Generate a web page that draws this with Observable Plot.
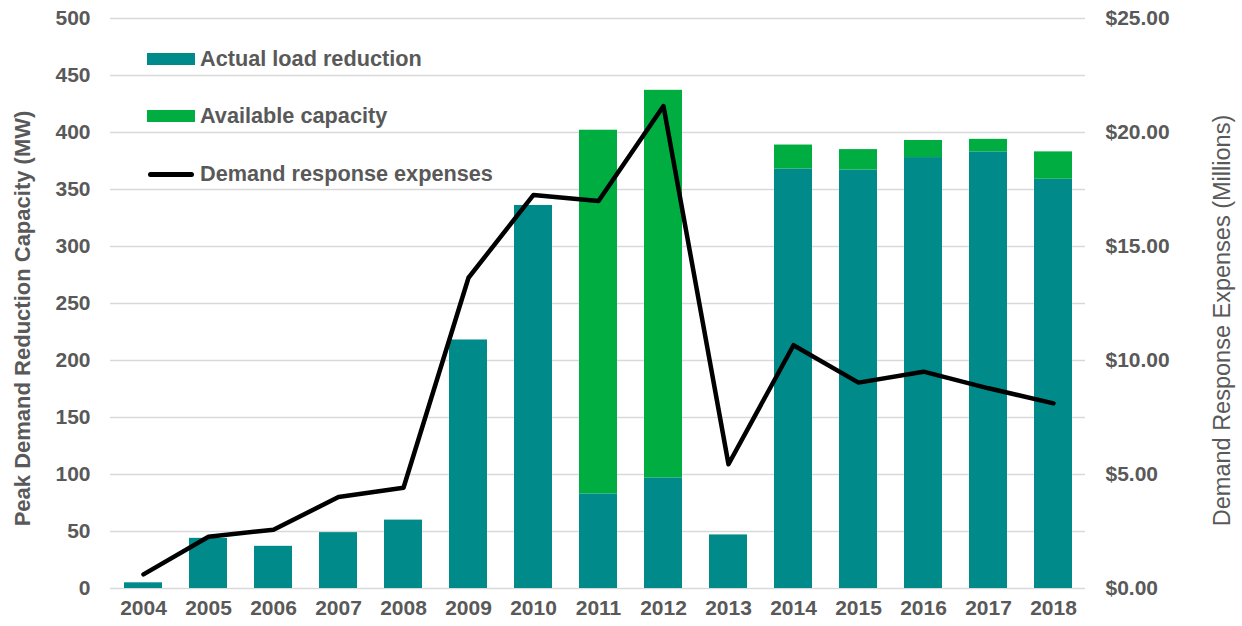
<!DOCTYPE html>
<html>
<head>
<meta charset="utf-8">
<script src="https://cdn.jsdelivr.net/npm/d3@7"></script>
<script src="https://cdn.jsdelivr.net/npm/@observablehq/plot@0.6"></script>
<style>
  html, body { margin: 0; padding: 0; background: #fff; }
  #wrap { position: relative; width: 1242px; height: 626px; font-family: "Liberation Sans", Arial, sans-serif; }
  .leg { position: absolute; left: 147px; display: flex; align-items: center; font-weight: bold; font-size: 21.7px; color: #595959; white-space: nowrap; }
  .sw { width: 48px; height: 12px; margin-right: 5px; }
  .ln { width: 46px; height: 5px; border-radius: 3px; background: #000; margin: 0 6px 0 1px; }
</style>
</head>
<body>
<div id="wrap"></div>
<script>
const years = ["2004","2005","2006","2007","2008","2009","2010","2011","2012","2013","2014","2015","2016","2017","2018"];
const actualLoad = [5, 44, 37, 49, 60, 218, 336, 83, 97, 47, 368, 367, 378, 383, 359];
const availableCapacity = [0, 0, 0, 0, 0, 0, 0, 319, 340, 0, 21, 18, 15, 11, 24];
const expenses = [0.62, 2.27, 2.58, 4.01, 4.42, 13.63, 17.26, 17.0, 21.16, 5.45, 10.67, 9.03, 9.51, 8.78, 8.12];
const leftTicks = [0, 50, 100, 150, 200, 250, 300, 350, 400, 450, 500];
const rightTicks = [0, 5, 10, 15, 20, 25];
const seriesNames = ["Actual load reduction", "Available capacity", "Demand response expenses"];
const seriesColors = ["#008A8A", "#00AD41", "#000000"];
const leftTitle = "Peak Demand Reduction Capacity (MW)";
const rightTitle = "Demand Response Expenses (Millions)";

const ratio = 500 / 25; // right axis $25 maps to 500 MW

const bars = [];
years.forEach((y, i) => {
  bars.push({year: y, series: seriesNames[0], value: actualLoad[i]});
  bars.push({year: y, series: seriesNames[1], value: availableCapacity[i]});
});
const line = years.map((y, i) => ({year: y, expense: expenses[i]}));

const chart = Plot.plot({
  width: 1242,
  height: 626,
  marginLeft: 110,
  marginRight: 157,
  marginTop: 18,
  marginBottom: 38,
  style: {fontFamily: "'Liberation Sans', Arial, sans-serif", fontWeight: "bold", fontSize: "21px", color: "#595959", background: "#fff"},
  x: {type: "band", domain: years, paddingInner: 0.42, paddingOuter: 0.21},
  y: {domain: [0, 500]},
  color: {domain: seriesNames.slice(0, 2), range: seriesColors.slice(0, 2)},
  marks: [
    Plot.gridY(leftTicks, {stroke: "#D9D9D9", strokeOpacity: 1, strokeWidth: 1.5}),
    Plot.barY(bars, {x: "year", y: "value", fill: "series", order: seriesNames.slice(0, 2)}),
    Plot.line(line, {x: "year", y: d => d.expense * ratio, stroke: seriesColors[2], strokeWidth: 4.5, strokeLinejoin: "round", strokeLinecap: "round"}),
    Plot.axisY(leftTicks, {anchor: "left", tickSize: 0, tickPadding: 20, label: null}),
    Plot.axisY(rightTicks.map(d => d * ratio), {anchor: "right", tickSize: 0, tickPadding: 20, label: null, tickFormat: d => "$" + (d / ratio).toFixed(2)}),
    Plot.axisX({tickSize: 0, tickPadding: 12, label: null}),
    Plot.text([leftTitle], {frameAnchor: "left", textAnchor: "middle", dx: -88, dy: 15, rotate: -90, fontSize: 22, fill: "#595959"}),
    Plot.text([rightTitle], {frameAnchor: "right", textAnchor: "middle", dx: 137, dy: 17, rotate: -90, fontSize: 23.5, fontWeight: "normal", fill: "#595959"})
  ]
});

const wrap = document.getElementById("wrap");
wrap.appendChild(chart);

const legendTops = [59, 116, 174];
seriesNames.forEach((name, i) => {
  const row = document.createElement("div");
  row.className = "leg";
  row.style.top = (legendTops[i] - 12) + "px";
  row.style.height = "24px";
  const sw = document.createElement("div");
  if (i < 2) { sw.className = "sw"; sw.style.background = seriesColors[i]; }
  else { sw.className = "ln"; }
  row.appendChild(sw);
  const t = document.createElement("span");
  t.textContent = name;
  row.appendChild(t);
  wrap.appendChild(row);
});
</script>
</body>
</html>
